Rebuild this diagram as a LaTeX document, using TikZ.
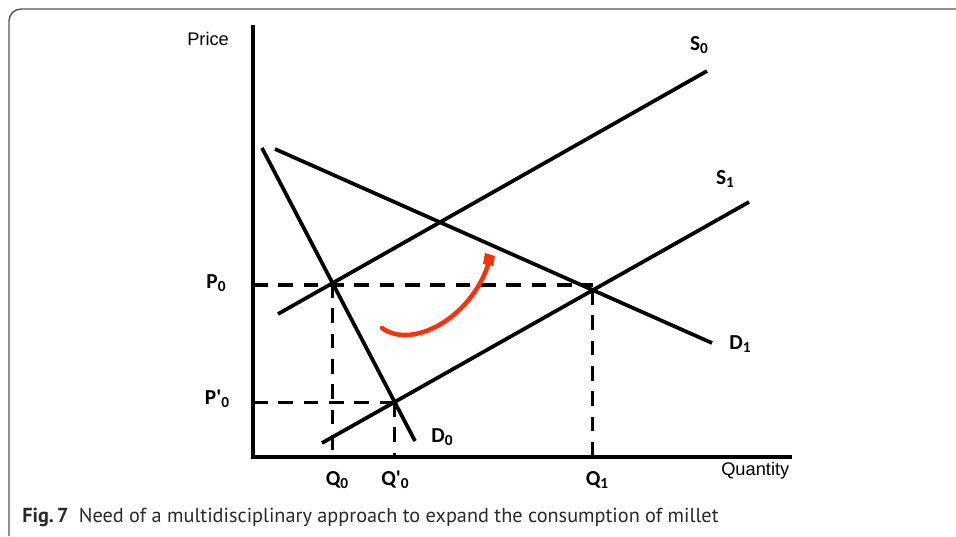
\documentclass[tikz,border=0pt]{standalone}
\usepackage{fontspec}
\setmainfont{Carlito}
\newfontfamily\arialf{Liberation Sans}
\newfontfamily\capf{PT Sans}
\usetikzlibrary{arrows.meta}
\definecolor{framegray}{RGB}{85,85,85}
\definecolor{arrowred}{RGB}{250,50,10}
\definecolor{captext}{RGB}{40,40,40}
\newcommand{\lbl}[2]{#1\raisebox{-0.32ex}{\fontsize{11.5}{12}\selectfont #2}}
\begin{document}
\begin{tikzpicture}[x=0.75pt,y=-0.75pt,
  curve/.style={line width=2.8pt},
  axis/.style={line width=3pt},
  guide/.style={line width=2.3pt, dash pattern=on 11pt off 8pt},
  lab/.style={font=\fontsize{16}{18}\selectfont\bfseries, inner sep=0pt},
  axlab/.style={font=\arialf\fontsize{13.7}{16}\selectfont, inner sep=0pt, anchor=base west}]
\useasboundingbox (0,0) rectangle (956,536);
% frame
\draw[framegray, line width=1.1pt, rounded corners=9pt] (9,536) -- (9,9) -- (956,9);
% key coordinates
\coordinate (O) at (253,457);
\coordinate (ytop) at (253,25);
\coordinate (xend) at (792,457);
\coordinate (s0a) at (278,314);
\coordinate (s0b) at (707,71);
\coordinate (s1a) at (322,443);
\coordinate (s1b) at (749,202);
\coordinate (d0a) at (262,148);
\coordinate (d0b) at (415,441);
\coordinate (d1a) at (275,149);
\coordinate (d1b) at (712,343);
\coordinate (E0) at (intersection of s0a--s0b and d0a--d0b);
\coordinate (E1) at (intersection of s1a--s1b and d1a--d1b);
\coordinate (E2) at (intersection of s1a--s1b and d0a--d0b);
\coordinate (p0) at (253,285);
% guides
\draw[guide] (p0) -- (p0 -| E1);
\draw[guide] (O |- E2) -- (E2);
\draw[guide] (E0) -- (E0 |- O);
\draw[guide] (E2) -- (E2 |- O);
\draw[guide] (E1) -- (E1 |- O);
% curves
\draw[curve] (s0a) -- (s0b);
\draw[curve] (s1a) -- (s1b);
\draw[curve] (d0a) -- (d0b);
\draw[curve] (d1a) -- (d1b);
% axes
\draw[axis] (ytop) -- (O) -- (xend);
% red arrow
\coordinate (ra) at (382,328);
\coordinate (rb) at (489,262);
\draw[arrowred, line width=3.4pt, line cap=round] (ra) .. controls (412,350) and (472,318) .. (rb);
\fill[arrowred] (483,264) -- (485,253) -- (495,256) -- (493,266) -- cycle;
% labels
\node[axlab] (price) at (187,45) {Price};
\node[axlab] (qty) at (721,475) {Quantity};
\node[lab] (S0) at (699,45) {\lbl{S}{0}};
\node[lab] (S1) at (725,179) {\lbl{S}{1}};
\node[lab] (D1) at (740,344) {\lbl{D}{1}};
\node[lab] (D0) at (442,437) {\lbl{D}{0}};
\node[lab] (P0) at (216,283) {\lbl{P}{0}};
\node[lab] (P0p) at (217,399) {\lbl{P\textquotesingle}{0}};
\node[lab] (Q0) at (337,480) {\lbl{Q}{0}};
\node[lab] (Q0p) at (395,480) {\lbl{Q\textquotesingle}{0}};
\node[lab] (Q1) at (597,480) {\lbl{Q}{1}};
% caption
\node[anchor=base west, inner sep=0pt, text=captext, font=\capf\fontsize{15.2}{18}\selectfont] (cap) at (22,522)
  {\textbf{Fig.\,7}\enspace Need of a multidisciplinary approach to expand the consumption of millet};
\end{tikzpicture}
\end{document}
